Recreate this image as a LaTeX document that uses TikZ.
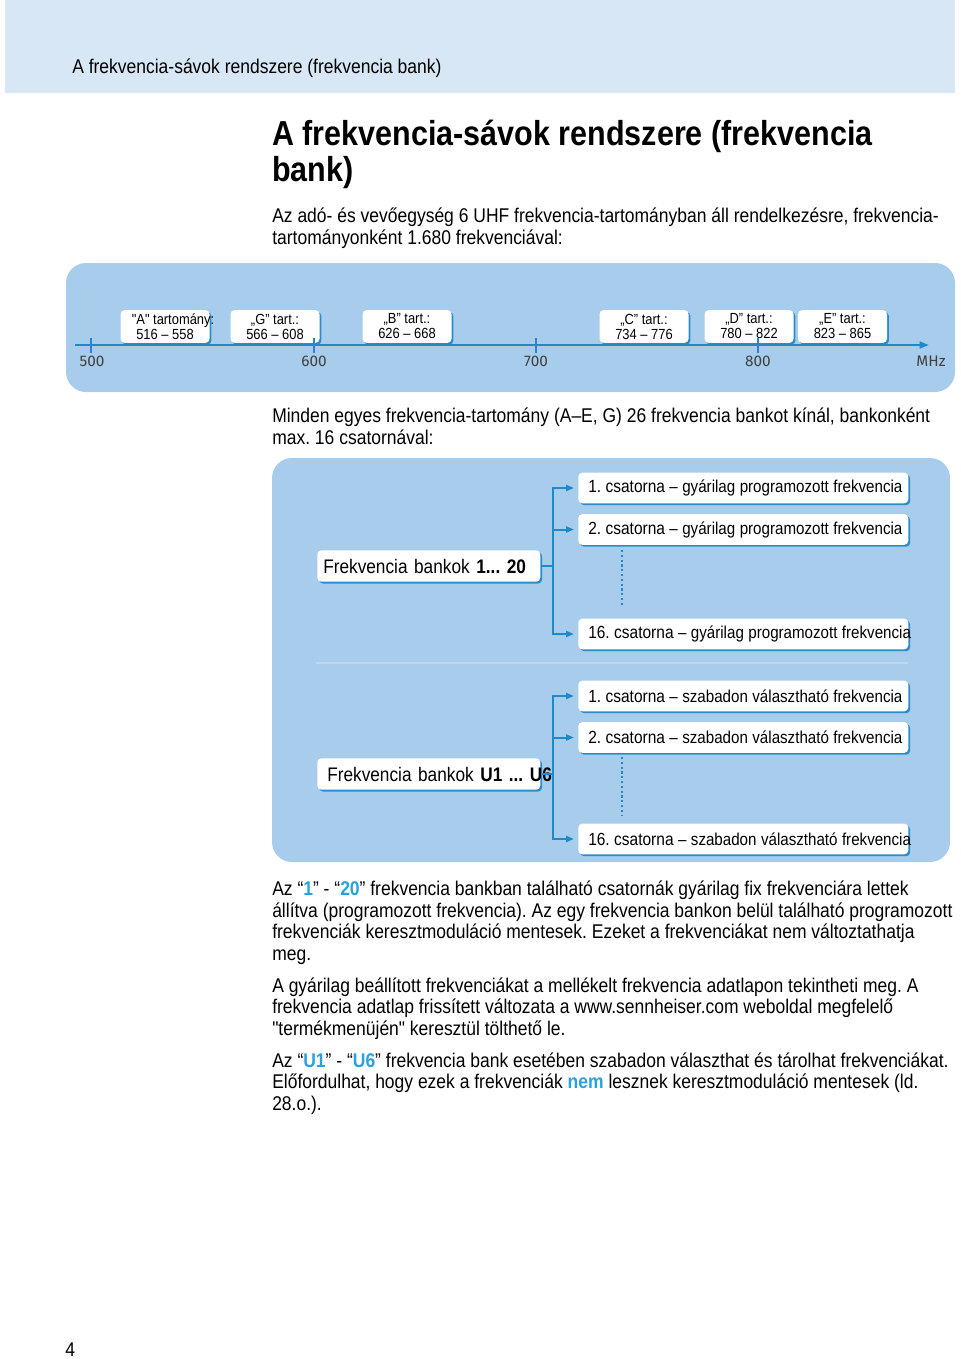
\documentclass[tikz,border=0pt]{standalone}
\usepackage{fontspec}
\setmainfont{Liberation Sans}[FakeStretch=0.88, Ligatures=TeXOff]
\newfontfamily\axisfont{Fira Sans}
\usetikzlibrary{arrows.meta, shadows, positioning}
\frenchspacing

\definecolor{headblue}{HTML}{D8E7F5}
\definecolor{panelblue}{HTML}{A7CCEC}
\definecolor{lineblue}{HTML}{1E8ACB}
\definecolor{shadowblue}{HTML}{2B8CCB}
\definecolor{hiblue}{HTML}{27A3DD}
\definecolor{seplight}{HTML}{BBD8F0}

\newcommand{\hi}[1]{\textcolor{hiblue}{\textbf{#1}}}
\newcommand{\chan}[2]{\mbox{{\fontsize{13.2}{15}\selectfont #1 csatorna} {\fontsize{12.9}{15}\selectfont – #2}}}

\begin{document}
\begin{tikzpicture}[x=0.75pt, y=-0.75pt,
  every node/.style={inner sep=0pt},
  txt/.style={anchor=base west, align=left, font=\fontsize{14.9}{16.1}\selectfont},
  whitebox/.style={fill=white, rounded corners=3pt, drop shadow={shadow xshift=1.4pt, shadow yshift=-1.4pt, fill=shadowblue, opacity=1}},
  rangebox/.style={whitebox, minimum width=66.75pt, minimum height=24.5pt, align=center, font=\fontsize{11}{11.25}\selectfont},
  bankbox/.style={whitebox, anchor=west, minimum height=23.5pt, text width=158.25pt, inner xsep=4.5pt, align=left, font=\fontsize{14.7}{16}\selectfont},
  chanbox/.style={whitebox, anchor=west, minimum height=23pt, text width=232.5pt, inner xsep=7.5pt, align=left},
  bline/.style={draw=lineblue, line width=1.5pt},
  barrow/.style={bline, -{Triangle[length=6pt,width=4.5pt]}, shorten >=3pt},
  dotline/.style={draw=lineblue, line width=1.6pt, dotted},
  axisline/.style={draw=lineblue, line width=1.8pt},
  ticklab/.style={font=\axisfont\fontsize{11.5}{12}\selectfont, text=black!75}
]
\useasboundingbox (0,0) rectangle (960,1359);

% page head
\fill[headblue] (5,0) rectangle (955,93);
\node (head) [txt] at (72,74) {A frekvencia-sávok rendszere (frekvencia bank)};

% multi-line texts sit on the baseline of their last line
\node (title) [txt, font=\bfseries\fontsize{26}{26.5}\selectfont] at (272,181) {A frekvencia-sávok rendszere (frekvencia\\bank)};
\node (intro) [txt] at (272,244) {Az adó- és vevőegység 6 UHF frekvencia-tartományban áll rendelkezésre, frekvencia-\\tartományonként 1.680 frekvenciával:};

% frequency ranges
\fill[panelblue, rounded corners=15pt] (66,263) rectangle (955,392);
\node (rA) [rangebox] at (165,326.5) {\makebox[0pt]{\hspace*{12pt}"A" tartomány:}\\516 – 558};
\node (rG) [rangebox] at (275,326.5) {„G” tart.:\\566 – 608};
\node (rB) [rangebox] at (407,326.5) {„B” tart.:\\626 – 668};
\node (rC) [rangebox] at (644,326.5) {„C” tart.:\\734 – 776};
\node (rD) [rangebox] at (749,326.5) {„D” tart.:\\780 – 822};
\node (rE) [rangebox] at (842.5,326.5) {„E” tart.:\\823 – 865};

\coordinate (axL) at (75,345);
\coordinate (axR) at (929,345);
\draw[axisline, -{Triangle[length=7pt,width=5pt]}] (axL) -- (axR);
\draw[axisline] (91,338) -- (91,353);
\draw[axisline] (314,338) -- (314,353);
\draw[axisline] (536,338) -- (536,353);
\draw[axisline] (758,338) -- (758,353);
\node (l500) [ticklab] at (92,361) {500};
\node (l600) [ticklab] at (314,361) {600};
\node (l700) [ticklab] at (536,361) {700};
\node (l800) [ticklab] at (758,361) {800};
\node (lmhz) [ticklab] at (931,361) {MHz};

\node (banks) [txt] at (272,444) {Minden egyes frekvencia-tartomány (A–E, G) 26 frekvencia bankot kínál, bankonként\\max. 16 csatornával:};

% banks and channels
\fill[panelblue, rounded corners=15pt] (272,458) rectangle (950,862);
\draw[seplight, line width=1.5pt] (316,663) -- (908,663);

\node (bankA) [bankbox] at (317,566) {\mbox{Frekvencia bankok \textbf{1... 20}}};
\node (chA1) [chanbox] at (578,488) {\chan{1.}{gyárilag programozott frekvencia}};
\node (chA2) [chanbox] at (578,529.5) {\chan{2.}{gyárilag programozott frekvencia}};
\node (chA16) [chanbox] at (578,634) {\chan{16.}{gyárilag programozott frekvencia}};
\coordinate (forkA) at (553,566);
\draw[bline] (bankA.east) -- (forkA);
\draw[barrow] (forkA) |- (chA1.west);
\draw[barrow] (forkA) |- (chA2.west);
\draw[barrow] (forkA) |- (chA16.west);
\draw[dotline] (622,550) -- (622,607);

\node (bankU) [bankbox] at (317,774) {\mbox{\hspace*{3pt}Frekvencia bankok \textbf{U1 ... U6}}};
\node (chU1) [chanbox] at (578,696) {\chan{1.}{szabadon választható frekvencia}};
\node (chU2) [chanbox] at (578,737.5) {\chan{2.}{szabadon választható frekvencia}};
\node (chU16) [chanbox] at (578,839) {\chan{16.}{szabadon választható frekvencia}};
\coordinate (forkU) at (553,774);
\draw[bline] (bankU.east) -- (forkU);
\draw[barrow] (forkU) |- (chU1.west);
\draw[barrow] (forkU) |- (chU2.west);
\draw[barrow] (forkU) |- (chU16.west);
\draw[dotline] (622,757) -- (622,815);

% explanations
\node (fixed) [txt] at (272,960) {Az “\hi{1}” - “\hi{20}” frekvencia bankban található csatornák gyárilag fix frekvenciára lettek\\állítva (programozott frekvencia). Az egy frekvencia bankon belül található programozott\\frekvenciák keresztmoduláció mentesek. Ezeket a frekvenciákat nem változtathatja\\meg.};
\node (sheet) [txt] at (272,1035) {A gyárilag beállított frekvenciákat a mellékelt frekvencia adatlapon tekintheti meg. A\\frekvencia adatlap frissített változata a www.sennheiser.com weboldal megfelelő\\"termékmenüjén" keresztül tölthető le.};
\node (free) [txt] at (272,1110) {Az “\hi{U1}” - “\hi{U6}” frekvencia bank esetében szabadon választhat és tárolhat frekvenciákat.\\Előfordulhat, hogy ezek a frekvenciák \hi{nem} lesznek keresztmoduláció mentesek (ld.\\28.o.).};

\node (page) [txt] at (65,1356) {4};
\end{tikzpicture}
\end{document}
